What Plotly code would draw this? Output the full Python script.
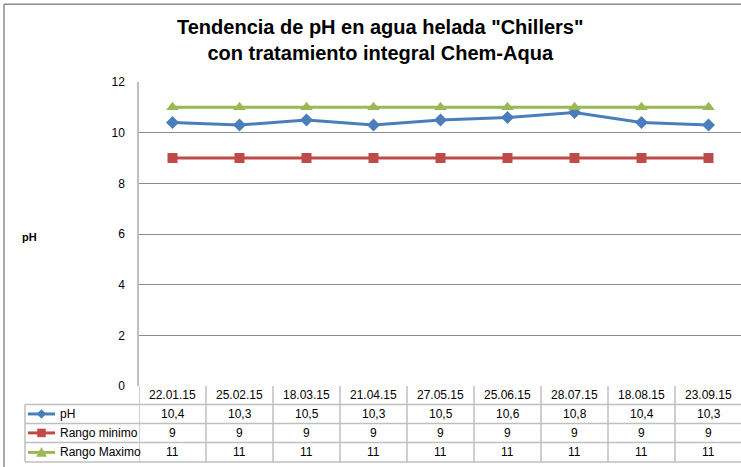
import plotly.graph_objects as go

dates = ["22.01.15", "25.02.15", "18.03.15", "21.04.15", "27.05.15",
         "25.06.15", "28.07.15", "18.08.15", "23.09.15"]
ph = [10.4, 10.3, 10.5, 10.3, 10.5, 10.6, 10.8, 10.4, 10.3]
rango_min = [9, 9, 9, 9, 9, 9, 9, 9, 9]
rango_max = [11, 11, 11, 11, 11, 11, 11, 11, 11]
series_names = ["pH", "Rango minimo", "Rango Maximo"]
colors = ["#4A7EBB", "#BE4B48", "#98B954"]
symbols = ["diamond", "square", "triangle-up"]
msizes = [10, 10, 11]

W, H = 741, 467
L, T, B = 139, 82, 80.5
PW = W - L
PH = H - T - B
XR = [-0.5, 8.485]
YR = [0, 12]
FONT = "Liberation Sans Narrow, Arial Narrow, Liberation Sans, Arial, sans-serif"


def px(xp):
    return (xp - L) / PW


def py(yp):
    return (H - B - yp) / PH


def marker_path(kind, cx, cy, r):
    if kind == "diamond":
        pts = [(cx, cy - r), (cx + r, cy), (cx, cy + r), (cx - r, cy)]
    elif kind == "square":
        pts = [(cx - r, cy - r), (cx + r, cy - r), (cx + r, cy + r), (cx - r, cy + r)]
    else:
        pts = [(cx, cy - r), (cx + r, cy + r * 0.8), (cx - r, cy + r * 0.8)]
    d = "M" + " L".join(f"{px(a):.5f},{py(b):.5f}" for a, b in pts) + " Z"
    return d


n = len(dates)
xs = list(range(n))
series = [ph, rango_min, rango_max]

fig = go.Figure()
for name, vals, c, s, ms in zip(series_names, series, colors, symbols, msizes):
    fig.add_trace(go.Scatter(
        x=xs, y=vals, name=name, mode="lines+markers",
        line=dict(color=c, width=3),
        marker=dict(symbol=s, size=ms, color=c),
        showlegend=False, hoverinfo="skip",
    ))

shapes = []
annotations = []
GRID = "#BFBFBF"
# outer chart border (left and top)
shapes.append(dict(type="line", xref="paper", yref="paper", x0=px(4), x1=px(4),
                   y0=py(4), y1=py(H + 5), line=dict(color="#8C8C8C", width=1.5)))
shapes.append(dict(type="line", xref="paper", yref="paper", x0=px(4), x1=px(W + 5),
                   y0=py(4), y1=py(4), line=dict(color="#8C8C8C", width=1.5)))

# table row boundaries (pixel y)
row_lines = [405, 424, 443, 462.5]
row_centers = [396, 414.5, 433.5, 453]
for yl in row_lines:
    shapes.append(dict(type="line", xref="paper", yref="paper", x0=px(25), x1=px(W + 5),
                       y0=py(yl), y1=py(yl), line=dict(color=GRID, width=1.5)))
# legend column left border
shapes.append(dict(type="line", xref="paper", yref="paper", x0=px(25), x1=px(25),
                   y0=py(405), y1=py(462.5), line=dict(color=GRID, width=1.5)))
# column boundaries
for i in range(n + 1):
    shapes.append(dict(type="line", xref="x", yref="paper", x0=i - 0.5, x1=i - 0.5,
                       y0=py(H - B), y1=py(462.5), line=dict(color=GRID, width=1.5)))

# header dates and values
for i, d in enumerate(dates):
    annotations.append(dict(x=i, y=py(row_centers[0]), xref="x", yref="paper",
                            text=d, showarrow=False, xanchor="center", yanchor="middle",
                            font=dict(family=FONT, size=12, color="#000")))
for r, vals in enumerate(series):
    for i, v in enumerate(vals):
        txt = (f"{v:g}").replace(".", ",")
        annotations.append(dict(x=i, y=py(row_centers[r + 1]), xref="x", yref="paper",
                                text=txt, showarrow=False, xanchor="center", yanchor="middle",
                                font=dict(family=FONT, size=12, color="#000")))

# legend keys in the table
marker_r = {"diamond": 4.5, "square": 4.0, "triangle-up": 5.0}
for r, (name, c, s) in enumerate(zip(series_names, colors, symbols)):
    ycp = row_centers[r + 1]
    yc = py(ycp)
    shapes.append(dict(type="line", xref="paper", yref="paper", x0=px(28), x1=px(55),
                       y0=yc, y1=yc, line=dict(color=c, width=3)))
    shapes.append(dict(type="path", xref="paper", yref="paper",
                       path=marker_path(s, 41.5, ycp, marker_r[s]),
                       fillcolor=c, line=dict(color=c, width=0.5)))
    annotations.append(dict(x=px(58), y=yc, xref="paper", yref="paper", text=name,
                            showarrow=False, xanchor="left", yanchor="middle",
                            font=dict(family=FONT, size=12, color="#000")))

# y axis title
annotations.append(dict(x=px(29), y=py(237), xref="paper", yref="paper", text="<b>pH</b>",
                        showarrow=False, xanchor="center", yanchor="middle",
                        font=dict(family=FONT, size=11, color="#000")))
# title
annotations.append(dict(x=px(380), y=py(40), xref="paper", yref="paper",
                        text="<b>Tendencia de pH en agua helada \"Chillers\"<br>con tratamiento integral Chem-Aqua</b>",
                        showarrow=False, align="center", xanchor="center", yanchor="middle",
                        font=dict(family=FONT, size=20, color="#000")))

fig.update_layout(
    width=W, height=H,
    margin=dict(l=L, r=0, t=T, b=B, pad=0),
    paper_bgcolor="white", plot_bgcolor="white",
    xaxis=dict(range=XR, showticklabels=False, showgrid=False,
               zeroline=False, showline=False, ticks=""),
    yaxis=dict(range=YR, dtick=2, showgrid=True, gridcolor="#8C8C8C", gridwidth=1,
               zeroline=False, showline=True, linecolor=GRID, linewidth=1.5,
               ticks="", ticklabelstandoff=10,
               tickfont=dict(family=FONT, size=12, color="#000")),
    shapes=shapes,
    annotations=annotations,
)

fig.write_html("out.html", config={"displayModeBar": False},
               post_script="document.body.style.margin='0';")
